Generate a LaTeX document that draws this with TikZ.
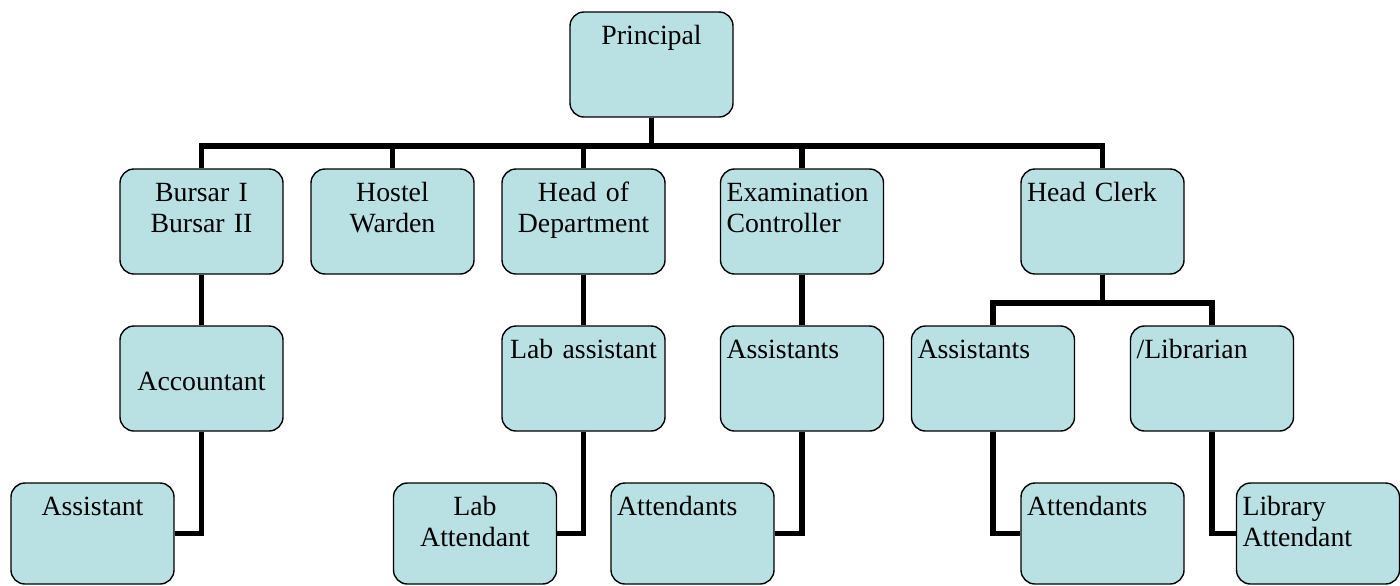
\documentclass[tikz,border=0pt]{standalone}
\usepackage{fontspec}
\setmainfont{Liberation Serif}
\definecolor{boxfill}{RGB}{185,224,227}

\begin{document}
\begin{tikzpicture}[x=0.5pt,y=-0.5pt,
    box/.style={draw=black,line width=0.7pt,fill=boxfill,rounded corners=7pt,
      inner xsep=3pt,inner ysep=0pt,text width=75.5pt,
      text height=16pt,text depth=36.5pt,font=\fontsize{13.9}{15.5}\selectfont},
    mid/.style={box,align=center},
    lft/.style={box,align=left},
    low/.style={text depth=34.5pt},
    conn/.style={line width=2.8pt}]
    \useasboundingbox (0,0) rectangle (1400,585);
    % top
    \node[mid] (prin) at (651.5,64.5) {Principal};
    % first row
    \node[mid] (bur) at (201.5,221.5) {Bursar I\\Bursar II};
    \node[mid] (hos) at (392.5,221.5) {Hostel\\Warden};
    \node[mid] (hod) at (583.5,221.5) {Head of\\Department};
    \node[lft] (exa) at (802,221.5) {Examination\\Controller};
    \node[lft] (clk) at (1102.5,221.5) {Head Clerk};
    % second row
    \node[mid,text height=32pt,text depth=20.5pt] (acc) at (201.5,378.5) {Accountant};
    \node[mid] (lab) at (583.5,378.5) {Lab assistant};
    \node[lft] (eas) at (802,378.5) {Assistants};
    \node[lft] (cas) at (993,378.5) {Assistants};
    \node[lft] (lib) at (1212,378.5) {/Librarian};
    % third row
    \node[mid,low] (ast) at (92.5,533.5) {Assistant};
    \node[mid,low] (lat) at (475,533.5) {Lab\\Attendant};
    \node[lft,low] (eat) at (692.5,533.5) {Attendants};
    \node[lft,low] (cat) at (1102.5,533.5) {Attendants};
    \node[lft,low] (lbat) at (1318,533.5) {Library\\Attendant};
    %
    \foreach \c in {bur,hos,hod,exa,clk}
        \draw[conn] (prin.south) -- ++(0,28) -| (\c.north);
    \draw[conn] (bur.south) -- (acc.north);
    \draw[conn] (hod.south) -- (lab.north);
    \draw[conn] (exa.south) -- (eas.north);
    \foreach \c in {cas,lib}
        \draw[conn] (clk.south) -- ++(0,28) -| (\c.north);
    
    \draw[conn] (acc.south) |- (ast.east);
    \draw[conn] (lab.south) |- (lat.east);
    \draw[conn] (eas.south) |- (eat.east);
    \draw[conn] (cas.south) |- (cat.west);
    \draw[conn] (lib.south) |- (lbat.west);
\end{tikzpicture}
\end{document}
